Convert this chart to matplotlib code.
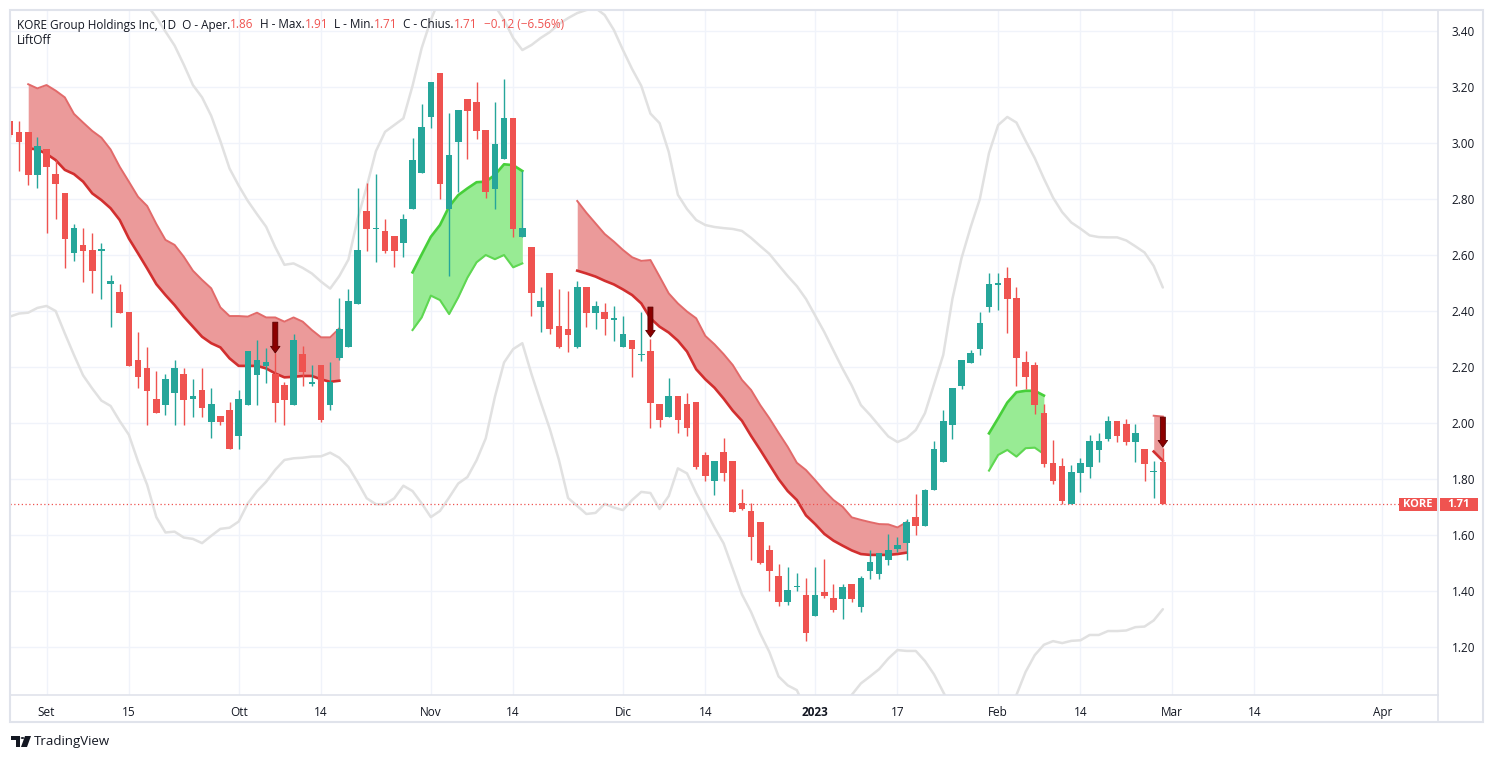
import pandas as pd
import matplotlib
matplotlib.use("Agg")
import matplotlib.pyplot as plt
from matplotlib.patches import Rectangle, Polygon

W, H = 1493, 759
FONT = ["Open Sans", "DejaVu Sans"]
plt.rcParams["font.family"] = FONT

# calendario di borsa (festivi USA esclusi) + giorni futuri
holidays = ["2022-09-05", "2022-11-24", "2022-12-26", "2023-01-02", "2023-01-16", "2023-02-20"]
cal = pd.bdate_range("2022-08-26", "2023-04-28")
cal = cal[~cal.isin(pd.to_datetime(holidays))]

opens = [3.08, 3.04, 3.04, 2.886, 2.979, 2.889, 2.82, 2.606, 2.635, 2.618,
         2.615, 2.495, 2.468, 2.396, 2.225, 2.196, 2.085, 2.064, 2.106, 2.175,
         2.085, 2.118, 2.005, 2.025, 2.046, 1.955, 2.064, 2.171, 2.205, 2.175,
         2.136, 2.064, 2.245, 2.14, 2.207, 2.064, 2.233, 2.272, 2.425, 2.757,
         2.693, 2.685, 2.668, 2.644, 2.765, 2.894, 3.094, 3.25, 2.765, 3.005,
         3.157, 3.146, 3.046, 2.837, 2.944, 3.089, 2.665, 2.629, 2.415, 2.535,
         2.346, 2.335, 2.272, 2.486, 2.394, 2.396, 2.367, 2.272, 2.296, 2.243,
         2.257, 2.068, 2.022, 2.096, 2.068, 2.075, 1.886, 1.794, 1.896, 1.864,
         1.714, 1.686, 1.646, 1.546, 1.454, 1.362, 1.413, 1.386, 1.312, 1.396,
         1.375, 1.371, 1.425, 1.344, 1.472, 1.462, 1.511, 1.55, 1.571, 1.664,
         1.633, 1.762, 1.862, 1.994, 2.133, 2.215, 2.265, 2.415, 2.494, 2.518,
         2.446, 2.218, 2.207, 2.036, 1.858, 1.848, 1.712, 1.822, 1.844, 1.905,
         1.944, 2.007, 1.996, 1.933, 1.907, 1.824, 1.86]
highs = [3.08, 3.08, 3.04, 3.02, 2.98, 2.94, 2.82, 2.71, 2.695, 2.68,
         2.644, 2.53, 2.496, 2.396, 2.326, 2.27, 2.187, 2.176, 2.225, 2.195,
         2.157, 2.196, 2.124, 2.025, 2.076, 2.118, 2.257, 2.296, 2.267, 2.249,
         2.147, 2.318, 2.275, 2.207, 2.207, 2.218, 2.446, 2.479, 2.84, 2.856,
         2.889, 2.727, 2.668, 2.746, 3.018, 3.14, 3.218, 3.25, 3.108, 3.118,
         3.157, 3.218, 3.046, 3.146, 3.229, 3.089, 2.90, 2.629, 2.487, 2.535,
         2.478, 2.471, 2.507, 2.486, 2.436, 2.427, 2.418, 2.382, 2.296, 2.395,
         2.299, 2.068, 2.159, 2.096, 2.106, 2.075, 1.896, 1.864, 1.948, 1.864,
         1.764, 1.714, 1.646, 1.564, 1.496, 1.486, 1.463, 1.448, 1.486, 1.515,
         1.425, 1.425, 1.425, 1.455, 1.546, 1.536, 1.604, 1.592, 1.657, 1.746,
         1.765, 1.936, 2.046, 2.125, 2.225, 2.261, 2.396, 2.536, 2.536, 2.557,
         2.486, 2.257, 2.218, 2.068, 1.939, 1.875, 1.85, 1.876, 1.957, 1.965,
         2.026, 2.007, 2.014, 1.996, 1.907, 1.865, 1.91]
lows = [3.02, 2.90, 2.85, 2.84, 2.68, 2.73, 2.555, 2.58, 2.505, 2.465,
        2.444, 2.344, 2.394, 2.205, 2.124, 1.993, 2.035, 2.03, 1.993, 1.993,
        2.022, 2.022, 1.945, 1.993, 1.906, 1.906, 2.064, 2.064, 2.142, 2.005,
        1.993, 2.064, 2.133, 2.133, 2.005, 2.046, 2.225, 2.272, 2.425, 2.615,
        2.576, 2.606, 2.558, 2.594, 2.765, 2.894, 3.053, 2.80, 2.526, 2.826,
        2.943, 3.014, 2.805, 2.765, 2.944, 2.665, 2.665, 2.383, 2.324, 2.317,
        2.267, 2.255, 2.267, 2.344, 2.335, 2.314, 2.293, 2.272, 2.165, 2.222,
        1.983, 1.987, 2.022, 1.963, 1.955, 1.835, 1.794, 1.744, 1.794, 1.683,
        1.689, 1.511, 1.495, 1.401, 1.346, 1.35, 1.401, 1.222, 1.312, 1.376,
        1.324, 1.301, 1.362, 1.324, 1.444, 1.444, 1.493, 1.54, 1.511, 1.60,
        1.633, 1.762, 1.862, 1.944, 2.123, 2.215, 2.244, 2.396, 2.405, 2.322,
        2.133, 2.123, 2.033, 1.844, 1.783, 1.712, 1.712, 1.755, 1.805, 1.862,
        1.937, 1.933, 1.922, 1.862, 1.794, 1.733, 1.71]
closes = [3.03, 3.005, 2.886, 2.989, 2.915, 2.853, 2.656, 2.695, 2.616, 2.544,
          2.62, 2.507, 2.394, 2.205, 2.165, 2.115, 2.035, 2.157, 2.196, 2.082,
          2.096, 2.055, 2.068, 2.005, 1.906, 2.086, 2.257, 2.225, 2.218, 2.073,
          2.082, 2.296, 2.183, 2.145, 2.011, 2.147, 2.336, 2.436, 2.618, 2.694,
          2.697, 2.615, 2.615, 2.728, 2.939, 3.057, 3.218, 2.855, 2.957, 3.118,
          3.115, 3.044, 2.826, 2.996, 3.089, 2.694, 2.695, 2.465, 2.436, 2.335,
          2.272, 2.314, 2.486, 2.394, 2.418, 2.373, 2.374, 2.318, 2.265, 2.247,
          2.073, 2.011, 2.096, 2.011, 1.983, 1.844, 1.812, 1.864, 1.822, 1.683,
          1.693, 1.594, 1.499, 1.472, 1.362, 1.404, 1.417, 1.251, 1.386, 1.383,
          1.333, 1.414, 1.371, 1.446, 1.504, 1.536, 1.546, 1.564, 1.646, 1.633,
          1.761, 1.907, 2.007, 2.125, 2.225, 2.25, 2.357, 2.496, 2.498, 2.444,
          2.233, 2.165, 2.065, 1.855, 1.794, 1.722, 1.826, 1.858, 1.936, 1.936,
          2.007, 1.955, 1.933, 1.964, 1.855, 1.83, 1.71]

# bande grigie (stesso numero di barre)
band_up = [3.62, 3.63, 3.64, 3.65, 3.66, 3.66, 3.66, 3.65, 3.64, 3.63,
           3.61, 3.60, 3.58, 3.56, 3.534, 3.493, 3.448, 3.398, 3.348, 3.280,
           3.207, 3.163, 3.097, 3.007, 2.909, 2.848, 2.793, 2.746, 2.701, 2.628,
           2.565, 2.570, 2.554, 2.534, 2.505, 2.480, 2.525, 2.584, 2.729, 2.845,
           2.971, 3.040, 3.064, 3.088, 3.204, 3.339, 3.439, 3.52, 3.55, 3.57,
           3.56, 3.54, 3.51, 3.49, 3.44, 3.375, 3.332, 3.35, 3.375, 3.396,
           3.425, 3.446, 3.464, 3.475, 3.482, 3.457, 3.404, 3.332, 3.264, 3.204,
           3.105, 3.071, 2.968, 2.815, 2.764, 2.725, 2.707, 2.700, 2.696, 2.693,
           2.686, 2.661, 2.632, 2.604, 2.564, 2.525, 2.489, 2.443, 2.384, 2.325,
           2.259, 2.194, 2.134, 2.064, 2.029, 1.990, 1.952, 1.932, 1.946, 1.975,
           2.035, 2.139, 2.243, 2.443, 2.589, 2.700, 2.800, 2.964, 3.064, 3.093,
           3.073, 3.008, 2.946, 2.873, 2.805, 2.753, 2.716, 2.694, 2.670, 2.664,
           2.663, 2.663, 2.652, 2.631, 2.609, 2.561, 2.484]
band_lo = [2.380, 2.391, 2.394, 2.411, 2.418, 2.400, 2.320, 2.243, 2.170, 2.123,
           2.080, 2.061, 2.007, 1.958, 1.863, 1.779, 1.664, 1.609, 1.612, 1.591,
           1.586, 1.571, 1.597, 1.622, 1.626, 1.648, 1.713, 1.756, 1.790, 1.833,
           1.868, 1.874, 1.876, 1.880, 1.881, 1.894, 1.876, 1.843, 1.789, 1.731,
           1.710, 1.710, 1.731, 1.776, 1.757, 1.713, 1.664, 1.686, 1.734, 1.784,
           1.807, 1.867, 1.945, 2.093, 2.216, 2.264, 2.285, 2.175, 2.075, 1.979,
           1.868, 1.732, 1.704, 1.675, 1.679, 1.711, 1.698, 1.689, 1.725, 1.754,
           1.750, 1.693, 1.739, 1.838, 1.820, 1.750, 1.689, 1.627, 1.570, 1.479,
           1.388, 1.325, 1.248, 1.182, 1.095, 1.063, 1.046, 0.975, 0.921, 0.904,
           0.921, 0.975, 1.029, 1.070, 1.095, 1.121, 1.159, 1.189, 1.186, 1.186,
           1.150, 1.102, 1.039, 0.975, 0.921, 0.886, 0.868, 0.868, 0.886, 0.939,
           1.029, 1.111, 1.171, 1.208, 1.221, 1.214, 1.222, 1.224, 1.243, 1.243,
           1.257, 1.257, 1.259, 1.271, 1.273, 1.295, 1.335]

# nuvole LiftOff: (data inizio, bordo superiore, bordo inferiore, tipo)
clouds = [
    ("2022-08-30",
     [3.210, 3.195, 3.207, 3.187, 3.163, 3.104, 3.073, 3.043, 3.019, 2.977,
      2.915, 2.862, 2.808, 2.775, 2.711, 2.654, 2.636, 2.594, 2.544, 2.511,
      2.481, 2.413, 2.382, 2.382, 2.380, 2.394, 2.377, 2.377, 2.362, 2.377,
      2.362, 2.332, 2.306, 2.306, 2.338],
     [2.981, 2.977, 2.961, 2.939, 2.904, 2.889, 2.862, 2.820, 2.796, 2.767,
      2.725, 2.659, 2.606, 2.552, 2.496, 2.457, 2.421, 2.380, 2.344, 2.308,
      2.285, 2.270, 2.231, 2.204, 2.204, 2.204, 2.195, 2.177, 2.163, 2.165,
      2.168, 2.168, 2.156, 2.147, 2.151], "bear"),
    ("2022-10-28",
     [2.538, 2.602, 2.665, 2.707, 2.773, 2.814, 2.838, 2.860, 2.862, 2.886, 2.924, 2.921, 2.900],
     [2.332, 2.377, 2.455, 2.439, 2.389, 2.449, 2.519, 2.574, 2.600, 2.585, 2.600, 2.556, 2.570], "bull"),
    ("2022-11-23",
     [2.793, 2.751, 2.713, 2.675, 2.648, 2.618, 2.592, 2.579, 2.582, 2.523, 2.463, 2.427, 2.398,
      2.374, 2.311, 2.281, 2.246, 2.207, 2.154, 2.118, 2.064, 2.017, 1.965, 1.915, 1.858, 1.832,
      1.796, 1.758, 1.725, 1.701, 1.663, 1.654, 1.646, 1.639, 1.638, 1.627, 1.646],
     [2.544, 2.534, 2.523, 2.508, 2.495, 2.477, 2.457, 2.427, 2.374, 2.344, 2.323, 2.294, 2.255,
      2.192, 2.156, 2.126, 2.087, 2.044, 2.008, 1.954, 1.904, 1.852, 1.800, 1.757, 1.725, 1.670,
      1.639, 1.604, 1.580, 1.562, 1.545, 1.532, 1.529, 1.529, 1.529, 1.532, 1.537], "bear"),
    ("2023-01-31",
     [1.963, 2.017, 2.073, 2.110, 2.115, 2.115, 2.098],
     [1.830, 1.886, 1.904, 1.880, 1.910, 1.912, 1.889], "bull"),
    ("2023-02-27", [2.026, 2.023], [1.898, 1.865], "bear"),
]

# frecce di segnale
arrow_dates = ["2022-10-07", "2022-12-06", "2023-02-28"]
arrow_top = [2.36, 2.414, 2.021]
arrow_tip = [2.25, 2.307, 1.914]

tick_dates = ["2022-09-01", "2022-09-15", "2022-10-03", "2022-10-14", "2022-11-01",
              "2022-11-14", "2022-12-01", "2022-12-14", "2023-01-03", "2023-01-17",
              "2023-02-01", "2023-02-14", "2023-03-01", "2023-03-14", "2023-04-03"]
tick_labels = ["Set", "15", "Ott", "14", "Nov", "14", "Dic", "14", "2023", "17",
               "Feb", "14", "Mar", "14", "Apr"]
price_ticks = [1.20, 1.40, 1.60, 1.80, 2.00, 2.20, 2.40, 2.60, 2.80, 3.00, 3.20, 3.40]

UP, DOWN = "#26a69a", "#ef5350"
TXT = "#131722"
BORDER = "#e0e3eb"


def pos(d):
    return int(cal.get_loc(pd.Timestamp(d)))


n = len(opens)
x = list(range(n))

fig = plt.figure(figsize=(W / 100, H / 100), dpi=100)
ax = fig.add_axes([10 / W, 64 / H, 1428 / W, 685 / H])
ax.set_xlim(0.01, 156.07)
ax.set_ylim(1.0286, 3.475)

# griglia
for p in price_ticks:
    ax.axhline(p, color="#f0f3fa", lw=1, zorder=0)
for d in tick_dates:
    ax.axvline(pos(d), color="#f0f3fa", lw=1, zorder=0)

# bande grigie
ax.plot(x, band_up, color="#e1e1e1", lw=1.8, zorder=1, solid_capstyle="round")
ax.plot(x, band_lo, color="#e1e1e1", lw=1.8, zorder=1, solid_capstyle="round")

# nuvole
for start, up, lo, kind in clouds:
    s = pos(start)
    xs = list(range(s, s + len(up)))
    if kind == "bear":
        ax.fill_between(xs, up, lo, color="#eb9a9a", lw=0, zorder=2)
        ax.plot(xs, up, color="#e26a6a", lw=1.4, zorder=3)
        ax.plot(xs, lo, color="#d22f2f", lw=1.9, zorder=3)
    else:
        ax.fill_between(xs, up, lo, color="#98eb94", lw=0, zorder=2)
        ax.plot(xs, up, color="#47cf3a", lw=1.9, zorder=3)
        ax.plot(xs, lo, color="#5fd752", lw=1.5, zorder=3)

# candele
for i in x:
    o, h, l, c = opens[i], highs[i], lows[i], closes[i]
    col = UP if c >= o else DOWN
    ax.vlines(i, l, h, color=col, lw=1.0, zorder=4)
    body = max(abs(c - o), 0.0045)
    ax.bar(i, body, bottom=min(o, c), width=0.72, color=col, lw=0, zorder=5)

# frecce
for d, top, tip in zip(arrow_dates, arrow_top, arrow_tip):
    ax.annotate("", xy=(pos(d), tip), xytext=(pos(d), top),
                arrowprops=dict(arrowstyle="simple,head_length=0.6,head_width=0.85,tail_width=0.45",
                                mutation_scale=8, fc="#8b0000", ec="#5c0000", lw=0.6,
                                shrinkA=0, shrinkB=0),
                zorder=6)

# linea ultimo prezzo
last = closes[-1]
ax.axhline(last, color=DOWN, lw=0.9, ls=(0, (1, 2)), zorder=3)

# assi
ax.set_yticks(price_ticks)
ax.set_yticklabels([f"{p:.2f}" for p in price_ticks])
ax.yaxis.tick_right()
ax.tick_params(axis="y", length=0, pad=10, labelsize=8.5, labelcolor=TXT)
ax.set_xticks([pos(d) for d in tick_dates])
ax.set_xticklabels(tick_labels)
ax.tick_params(axis="x", length=0, pad=8, labelsize=8.5, labelcolor=TXT)
for lab in ax.get_xticklabels():
    if lab.get_text() == "2023":
        lab.set_fontweight("bold")
for sp in ax.spines.values():
    sp.set_color(BORDER)
    sp.set_linewidth(1.2)

# cornice esterna
fig.patches.append(Rectangle((10 / W, 1 - 722 / H), 1473 / W, 712 / H, transform=fig.transFigure,
                             fill=False, ec=BORDER, lw=1.5))
fig.add_artist(plt.Line2D([1438 / W, 1438 / W], [1 - 722 / H, 1 - 695 / H], color=BORDER, lw=1.2))

# etichette prezzo
fig.canvas.draw()
ypx = ax.transData.transform((0, last))[1]
for x0, x1, s in [(1399, 1437, "KORE"), (1440, 1478, f"{last:.2f}")]:
    fig.patches.append(Rectangle((x0 / W, (ypx - 6.5) / H), (x1 - x0) / W, 13 / H,
                                 transform=fig.transFigure, fc=DOWN, ec="none"))
    fig.text((x0 + x1) / 2 / W, ypx / H, s, color="white", fontsize=8, fontweight="bold",
             ha="center", va="center")

# intestazione
r = fig.canvas.get_renderer()
chg = closes[-1] - closes[-2]
pct = chg / closes[-2] * 100
pieces = [("KORE Group Holdings Inc, 1D  O - Aper.", TXT), (f"{opens[-1]:.2f}", DOWN),
          ("  H - Max.", TXT), (f"{highs[-1]:.2f}", DOWN),
          ("  L - Min.", TXT), (f"{lows[-1]:.2f}", DOWN),
          ("  C - Chius.", TXT), (f"{closes[-1]:.2f}", DOWN),
          (f"  \u2212{abs(chg):.2f} (\u2212{abs(pct):.2f}%)", DOWN)]
xp = 17
for s, col in pieces:
    t = fig.text(xp / W, 1 - 25 / H, s, color=col, fontsize=8.5, ha="left", va="center")
    xp += t.get_window_extent(renderer=r).width
fig.text(17 / W, 1 - 41 / H, "LiftOff", color=TXT, fontsize=8.5, ha="left", va="center")

# logo TradingView
logo = [[(11, 736), (20, 736), (20, 747), (16, 747), (16, 740), (11, 740)],
        [(25, 736), (31, 736), (27, 747), (21, 747)]]
for pts in logo:
    fig.patches.append(Polygon([(px / W, 1 - py / H) for px, py in pts], closed=True,
                               transform=fig.transFigure, fc=TXT, ec="none"))
fig.patches.append(plt.Circle((22.5 / W, 1 - 738 / H), 1.8 / W, transform=fig.transFigure, fc=TXT))
fig.text(34 / W, 1 - 742 / H, "TradingView", color=TXT, fontsize=9.5, ha="left", va="center")

fig.savefig("out.png", dpi=100)
